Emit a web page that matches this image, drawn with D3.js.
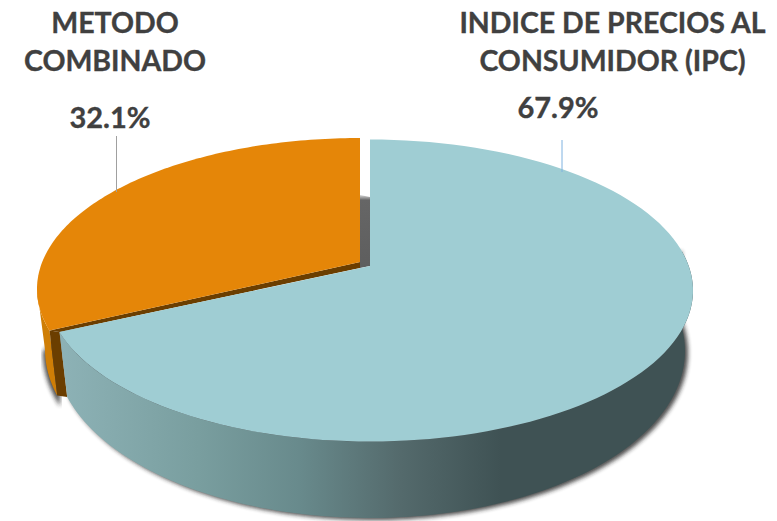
<!DOCTYPE html>
<html><head><meta charset="utf-8">
<script src="https://cdn.jsdelivr.net/npm/d3@7"></script>
<style>html,body{margin:0;padding:0;background:#fff}svg{display:block}text{font-family:Lato,"Open Sans",sans-serif;font-weight:700;fill:#404040;stroke:#404040;stroke-width:.35px}</style>
</head><body><svg id="c" width="777" height="521"></svg>
<script>
const categories = ["INDICE DE PRECIOS AL|CONSUMIDOR (IPC)", "METODO|COMBINADO"];
const values = [67.9, 32.1];
const valueLabels = ["67.9%", "32.1%"];

const svg = d3.select("#c");
const defs = svg.append("defs");
const deg = Math.PI / 180;
const arcs = d3.pie().sort(null).value(d => d)(values);
// perspective of the tilted disc: true pie angle -> drawn ellipse angle
const warp = d3.scaleLinear().domain([0, arcs[0].endAngle, 2 * Math.PI]).range([0, 254 * deg, 360 * deg]);

const face = {cx: 370, cy: 290.5, rx: 323, ry: 151, ax: 370, ay: 266};
const bot = {cx: 370, cy: 351, rx: 315, ry: 167};
const shift = {x: -10, y: -1.5};
const apexO = [face.ax + shift.x, face.ay - 4];
const pt = (e, t, s) => [e.cx + e.rx * Math.sin(t) + (s ? s.x : 0), e.cy - e.ry * Math.cos(t) + (s ? s.y : 0)];
const samples = (t0, t1) => d3.range(0, 121).map(i => t0 + (t1 - t0) * i / 120);
const line = d3.line();

const f = defs.append("filter").attr("id", "blur").attr("x", "-10%").attr("y", "-10%").attr("width", "120%").attr("height", "120%");
f.append("feGaussianBlur").attr("stdDeviation", 2);
const gapGrad = defs.append("linearGradient").attr("id", "gap").attr("x1", 0).attr("x2", 0).attr("y1", 0).attr("y2", 1);
[[0, "#d8d8d8"], [0.07, "#666666"], [1, "#5e5e5e"]].forEach(s => gapGrad.append("stop").attr("offset", s[0]).attr("stop-color", s[1]));
const side = defs.append("linearGradient").attr("id", "side").attr("gradientUnits", "userSpaceOnUse").attr("x1", 60).attr("x2", 690).attr("y1", 0).attr("y2", 0);
[[0, "#8db2b6"], [0.22, "#799e9f"], [0.38, "#688a8c"], [0.54, "#546a6c"], [0.7, "#3f5254"], [1, "#3f5254"]].forEach(s => side.append("stop").attr("offset", s[0]).attr("stop-color", s[1]));

const [a, b] = arcs;
const tA = warp(a.endAngle), tEnd = warp(b.endAngle);

// soft shadow round the lower outline
const shade = {x: 3, y: 2};
svg.append("path").attr("fill", "#222").attr("opacity", .8).attr("filter", "url(#blur)")
  .attr("d", line([...samples(tA, 75 * deg).map(t => pt(bot, t, shade)), pt(face, 75 * deg), pt(face, tA)]) + "Z");
svg.append("path").attr("fill", "#222").attr("opacity", .8).attr("filter", "url(#blur)")
  .attr("d", line([...samples(tA - 3 * deg, 270 * deg).map(t => pt(bot, t, {x: -12, y: 1})), pt(face, tA)]) + "Z");

// grey hollow between the two slices
const gapTop = 195;
svg.append("path").attr("fill", "url(#gap)")
  .attr("d", line([[face.ax + shift.x, gapTop], [face.ax, gapTop + 2], [face.ax, face.ay], [face.ax + shift.x, face.ay + 2]]) + "Z");

// orange slice: rim, cut face, top
const oBot = samples(tA, 270 * deg).map(t => pt(bot, t, shift));
const oTop = samples(270 * deg, tA).map(t => pt(face, t, shift));
svg.append("path").attr("fill", "#cf7e06").attr("d", line([...oBot, ...oTop]) + "Z");
svg.append("path").attr("fill", "#6b3e00")
  .attr("d", line([pt(face, tA, shift), pt(face, tA), pt(bot, tA), pt(bot, tA, shift)]) + "Z");
svg.append("path").attr("fill", "#6b3e00")
  .attr("d", line([apexO, [apexO[0], apexO[1] + 6], pt(face, tA), pt(face, tA, shift)]) + "Z");

// blue slice: rim then top
svg.append("path").attr("fill", "url(#side)")
  .attr("d", line([...samples(75 * deg, tA).map(t => pt(face, t)), ...samples(tA, 75 * deg).map(t => pt(bot, t))]) + "Z");
svg.append("path").attr("fill", "#9fcdd3")
  .attr("d", line([[face.ax, face.ay], ...samples(warp(a.startAngle), tA).map(t => pt(face, t))]) + "Z");
svg.append("path").attr("fill", "#e58608")
  .attr("d", line([apexO, ...samples(tA, tEnd).map(t => pt(face, t, shift))]) + "Z");

// leaders
const leaders = [{x: 562, y1: 140, y2: 172, c: "#7fb2e0"}, {x: 116.5, y1: 136, y2: 192, c: "#a0a0a0"}];
svg.selectAll(".l").data(leaders).join("line").attr("x1", d => d.x).attr("x2", d => d.x).attr("y1", d => d.y1).attr("y2", d => d.y2).attr("stroke", d => d.c).attr("stroke-width", 1);

// labels
const nameX = [612.5, 115], valueX = [558, 110], valueY = [118, 128];
categories.forEach((c, i) => {
  c.split("|").forEach((s, j) => {
    svg.append("text").attr("x", nameX[i]).attr("y", 33 + j * 38).attr("text-anchor", "middle").attr("font-size", 28.5).text(s);
  });
  svg.append("text").attr("x", valueX[i]).attr("y", valueY[i]).attr("text-anchor", "middle").attr("font-size", 29).text(valueLabels[i]);
});
</script></body></html>
